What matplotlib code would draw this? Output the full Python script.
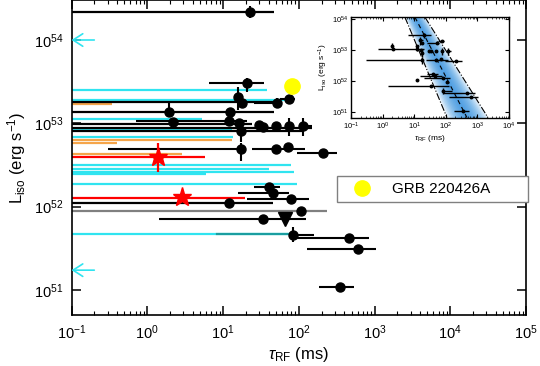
import numpy as np
import matplotlib
matplotlib.use('Agg')
import matplotlib.pyplot as plt
from matplotlib.lines import Line2D
from matplotlib.ticker import NullLocator, NullFormatter, FixedLocator

plt.rcParams['font.family'] = ['Liberation Sans', 'DejaVu Sans']
plt.rcParams['mathtext.fontset'] = 'custom'
plt.rcParams['mathtext.rm'] = 'Liberation Sans'
plt.rcParams['mathtext.it'] = 'Liberation Sans:italic'
plt.rcParams['mathtext.bf'] = 'Liberation Sans:bold'

# ---------------- data ----------------
# detections (black points): tau [ms], lower/upper tau, L [erg/s], lower/upper L
det_tau    = [22.8, 20.8, 15.8, 17.9, 51.9, 74.6, 12.4, 1.94, 2.19, 12.0, 16.3, 30.0, 33.9, 50.3, 74.6, 114,
              17.3, 17.3, 50.3, 72.4, 210, 40.6, 45.9, 79.3, 12.0, 108, 33.9, 84.4, 463, 610, 352]
det_tau_lo = [22.8, 6.5, 14.4, 17.9, 25.8, 56.8, 12.4, 1.94, 2.19, 0.71, 16.3, 30.0, 33.9, 50.3, 74.6, 114,
              17.3, 0.30, 24.2, 72.4, 95, 25.8, 15.8, 20.8, 12.0, 108, 1.43, 84.4, 84.4, 129, 186]
det_tau_hi = [22.8, 34.9, 18.4, 17.9, 60.0, 89.5, 12.4, 1.94, 2.19, 21.0, 16.3, 30.0, 33.9, 50.3, 74.6, 150,
              17.3, 17.3, 121, 72.4, 321, 56.8, 74.6, 137, 12.0, 108, 125, 160, 851, 1054, 540]
det_L      = [2.17e54, 3.05e53, 2.07e53, 1.75e53, 1.75e53, 1.96e53, 1.37e53, 1.37e53, 1.05e53, 1.07e53, 1.01e53,
              9.6e52, 9.0e52, 9.3e52, 9.3e52, 9.3e52, 8.1e52, 4.9e52, 4.9e52, 5.2e52, 4.4e52, 1.72e52, 1.46e52,
              1.23e52, 1.10e52, 8.9e51, 7.1e51, 4.6e51, 4.2e51, 3.1e51, 1.08e51]
det_L_lo   = [1.83e54, 2.37e53, 1.45e53, 1.75e53, 1.53e53, 1.96e53, 1.37e53, 1.26e53, 1.05e53, 9.6e52, 1.01e53,
              9.6e52, 9.0e52, 9.3e52, 7.0e52, 7.0e52, 6.0e52, 3.5e52, 4.9e52, 5.2e52, 4.4e52, 1.72e52, 1.46e52,
              1.23e52, 1.10e52, 8.9e51, 7.1e51, 3.8e51, 4.2e51, 3.1e51, 1.08e51]
det_L_hi   = [2.57e54, 3.50e53, 2.73e53, 1.75e53, 2.00e53, 1.96e53, 1.37e53, 1.75e53, 1.05e53, 1.22e53, 1.01e53,
              9.6e52, 9.0e52, 9.3e52, 1.16e53, 1.16e53, 9.8e52, 5.8e52, 4.9e52, 5.2e52, 4.4e52, 1.72e52, 1.46e52,
              1.23e52, 1.10e52, 8.9e51, 7.1e51, 5.7e51, 4.2e51, 3.1e51, 1.08e51]

# upper-limit lines starting at the left edge: end tau, L, colour key
ul_tau = [38.3, 70.3, 5.3, 13.0, 13.6, 79.3, 40.6, 86.9, 6.0, 95.2, 84.4,
          0.34, 13.2, 0.40, 2.88,
          5.8, 19.6,
          47.3, 48.8, 47.3, 24.2, 150, 111, 45.9,
          237]
ul_L = [2.51e53, 1.91e53, 1.13e53, 8.6e52, 6.9e52, 3.2e52, 2.8e52, 2.6e52, 2.5e52, 1.87e52, 4.7e51,
        1.71e53, 6.3e52, 5.8e52, 4.3e52,
        3.9e52, 1.27e52,
        2.17e54, 1.80e53, 1.37e53, 9.8e52, 8.8e52, 8.1e52, 1.10e52,
        8.9e51]
ul_kind = ['c'] * 11 + ['o'] * 4 + ['r'] * 2 + ['k'] * 7 + ['g']

# red stars
star_tau = [1.39, 2.88]
star_L = [3.9e52, 1.29e52]
star_L_lo = [2.6e52, 1.29e52]
star_L_hi = [5.8e52, 1.29e52]

# downward triangle
tri_tau = [66.1]
tri_L = [7.1e51]

# GRB 220426A
grb_tau = [81.8]
grb_L = [2.81e53]

# left arrows (cyan)
arrow_L = [1.0e54, 1.73e51]

# inset band: L at the two ends, and tau of the left edge, centre and right edge there
band_L = [1.15e54, 6.5e50]
band_tau_left = [5.1, 109.0]
band_tau_mid = [10.6, 468.0]
band_tau_right = [22.0, 2160.0]

# axis ticks
main_xticks = [1e-1, 1e0, 1e1, 1e2, 1e3, 1e4, 1e5]
main_yticks = [1e51, 1e52, 1e53, 1e54]
inset_xticks = [1e-1, 1e0, 1e1, 1e2, 1e3, 1e4]
inset_yticks = [1e51, 1e52, 1e53, 1e54]

colors = {'c': '#30e4f0', 'o': '#f5a54a', 'r': '#ff0000', 'k': '#000000', 'g': '#808080'}


def minor_log_ticks(majors):
    out = []
    for m in majors[:-1]:
        out += [m * s for s in range(2, 10)]
    return out


# ---------------- figure ----------------
fig = plt.figure(figsize=(5.4, 3.66), dpi=100)
ax = fig.add_axes([71.5 / 540, 51 / 366, 454.5 / 540, 315 / 366])
ax.set_xscale('log')
ax.set_yscale('log')
XMIN, XMAX = 0.1, 1e5
ax.set_xlim(XMIN, XMAX)
ax.set_ylim(10 ** 50.70, 10 ** 54.48)

for t, L, k in zip(ul_tau, ul_L, ul_kind):
    ax.plot([XMIN, t], [L, L], color=colors[k], lw=1.6, zorder=2, solid_capstyle='butt')

# teal segment overlapping
ax.plot([8.4, 84.4], [4.65e51, 4.65e51], color='#1a9ea0', lw=1.6, zorder=2.5)

for L in arrow_L:
    ax.annotate('', xy=(XMIN, L), xytext=(0.2, L),
                arrowprops=dict(arrowstyle='->,head_length=0.7,head_width=0.45',
                                color=colors['c'], lw=1.2, shrinkA=0, shrinkB=0), zorder=3)

dt = np.array(det_tau); dL = np.array(det_L)
xerr = [dt - np.array(det_tau_lo), np.array(det_tau_hi) - dt]
yerr = [dL - np.array(det_L_lo), np.array(det_L_hi) - dL]
ax.errorbar(dt, dL, xerr=xerr, yerr=yerr, fmt='o', color='k', ms=6.5, elinewidth=1.5,
            capsize=0, zorder=4)

st = np.array(star_tau); sL = np.array(star_L)
ax.errorbar(st, sL, yerr=[sL - np.array(star_L_lo), np.array(star_L_hi) - sL], fmt='*',
            color='#ff0000', ms=14, elinewidth=1.6, capsize=0, zorder=5)
ax.plot(tri_tau, tri_L, 'v', color='k', ms=10, zorder=5)
ax.plot(grb_tau, grb_L, 'o', color='#ffff00', ms=11, zorder=5)

ax.set_xticks(main_xticks)
ax.xaxis.set_minor_locator(FixedLocator(minor_log_ticks(main_xticks)))
ax.xaxis.set_minor_formatter(NullFormatter())
ax.set_yticks(main_yticks)
ax.yaxis.set_minor_locator(NullLocator())
ax.tick_params(which='both', direction='in', top=True, right=True, labelsize=10.5)
ax.tick_params(which='major', length=6.5, width=1.1)
ax.tick_params(which='minor', length=3, width=0.8)
ax.tick_params(axis='y', pad=6)
ax.tick_params(axis='x', pad=6)
for s in ax.spines.values():
    s.set_linewidth(1.2)
ax.set_xlabel(r'$\tau_{\rm RF}$ (ms)', fontsize=12, labelpad=2)
ax.set_ylabel(r'L$_{\rm iso}$ (erg s$^{-1}$)', fontsize=12, labelpad=4)

leg_handle = Line2D([], [], marker='o', color='#ffff00', ls='none', ms=11)
ax.legend([leg_handle], ['GRB 220426A'], loc='center', mode='expand',
          bbox_to_anchor=(0.584, 0.356, 0.42, 0.088), fontsize=11, frameon=True,
          fancybox=False, edgecolor='#808080', framealpha=1, borderpad=0.42,
          handlelength=2.4, handletextpad=0.8, borderaxespad=0)

# ---------------- inset ----------------
ins = fig.add_axes([351 / 540, (366 - 118) / 366, 158 / 540, 101 / 366])
ins.set_xscale('log'); ins.set_yscale('log')
ins.set_xlim(0.1, 1e4)
ins.set_ylim(10 ** 50.8, 10 ** 54.07)
bL = np.array(band_L)
lm = np.log10(band_tau_mid); ll = np.log10(band_tau_left); lr = np.log10(band_tau_right)
for frac in np.linspace(1.0, 0.1, 12):
    left = 10 ** (lm + frac * (ll - lm))
    right = 10 ** (lm + frac * (lr - lm))
    ins.fill_betweenx(bL, left, right, color='#2f8fe0', alpha=0.13, lw=0, zorder=1)
ins.plot(band_tau_mid, bL, ls=(0, (4, 3)), color='k', lw=0.8, zorder=2)
ins.plot(band_tau_left, bL, ls='-.', color='k', lw=0.8, zorder=2)
ins.plot(band_tau_right, bL, ls='-.', color='k', lw=0.8, zorder=2)
ins.errorbar(dt, dL, xerr=xerr, yerr=yerr, fmt='o', color='k', ms=1.8, elinewidth=1.0,
             capsize=0, zorder=3)
ins.set_xticks(inset_xticks)
ins.xaxis.set_minor_locator(FixedLocator(minor_log_ticks(inset_xticks)))
ins.xaxis.set_minor_formatter(NullFormatter())
ins.set_yticks(inset_yticks)
ins.yaxis.set_minor_locator(NullLocator())
ins.tick_params(which='both', direction='in', top=True, right=True, labelsize=5.5, pad=2)
ins.tick_params(which='major', length=3, width=0.8)
ins.tick_params(which='minor', length=1.5, width=0.5)
for s in ins.spines.values():
    s.set_linewidth(1.0)
ins.set_xlabel(r'$\tau_{\rm RF}$ (ms)', fontsize=6, labelpad=1)
ins.set_ylabel(r'L$_{\rm iso}$ (erg s$^{-1}$)', fontsize=6, labelpad=1)

fig.savefig('out.png', dpi=100)
